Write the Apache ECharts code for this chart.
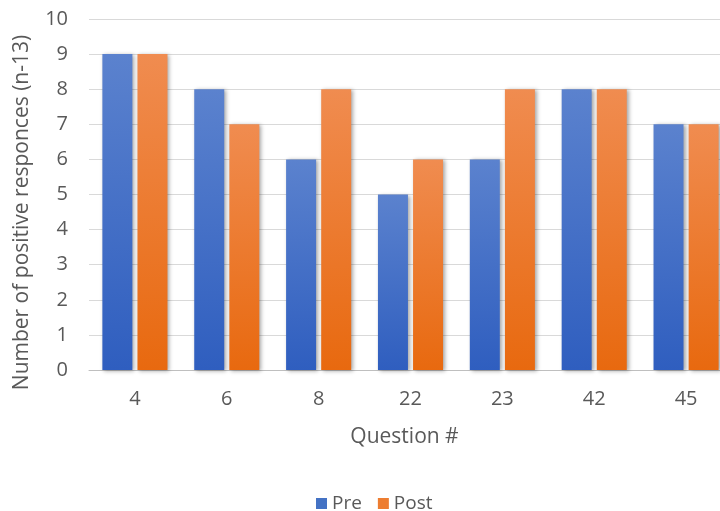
<!DOCTYPE html>
<html><head><meta charset="utf-8">
<script src="https://cdn.jsdelivr.net/npm/echarts@6/dist/echarts.min.js"></script>
<style>html,body{margin:0;padding:0;background:#fff}#c{width:720px;height:511px}</style>
</head><body><div id="c"></div>
<script>
const categories = ['4','6','8','22','23','42','45'];
const preValues = [9, 8, 6, 5, 6, 8, 7];
const postValues = [9, 7, 8, 6, 8, 8, 7];
const yTicks = [0,1,2,3,4,5,6,7,8,9,10];

function grad(top, bottom){
  return new echarts.graphic.LinearGradient(0,0,0,1,[{offset:0,color:top},{offset:1,color:bottom}]);
}
const chart = echarts.init(document.getElementById('c'));
chart.setOption({
  animation:false,
  textStyle:{fontFamily:'Open Sans, Noto Sans, sans-serif'},
  grid:{left:89,width:643,top:19,height:351,outerBoundsMode:'none',containLabel:false},
  legend:{
    top:489, left:311, itemWidth:11, itemHeight:11, itemGap:16,
    icon:'rect',
    textStyle:{fontSize:19,color:'#595959'},
    data:[{name:'Pre',itemStyle:{color:'#4472C4'}},{name:'Post',itemStyle:{color:'#ED7D31'}}]
  },
  xAxis:{
    type:'category', data:categories,
    name:'Question #', nameLocation:'middle', nameGap:57,
    nameTextStyle:{fontSize:21,color:'#595959',padding:[0,12,0,0]},
    axisLine:{lineStyle:{color:'#bfbfbf'}},
    axisTick:{show:false},
    axisLabel:{fontSize:20,color:'#595959',margin:19}
  },
  yAxis:{
    type:'value', min:0, max:10, interval:1,
    name:'Number of positive responces (n-13)', nameLocation:'middle', nameGap:56,
    nameTextStyle:{fontSize:21,color:'#595959',padding:[0,36,0,0]},
    axisLabel:{fontSize:20,color:'#595959',margin:21, formatter:v=>yTicks.includes(v)?String(v):''},
    splitLine:{lineStyle:{color:'#d9d9d9'}},
    axisLine:{show:false}, axisTick:{show:false}
  },
  series:[
    {name:'Pre',type:'bar',data:preValues,barWidth:30,barGap:'17%',
     itemStyle:{color:grad('#5B82CE','#2F5EBF'),shadowColor:'rgba(0,0,0,0.35)',shadowBlur:4,shadowOffsetX:2,shadowOffsetY:1}},
    {name:'Post',type:'bar',data:postValues,barWidth:30,
     itemStyle:{color:grad('#F08C50','#E8690F'),shadowColor:'rgba(0,0,0,0.35)',shadowBlur:4,shadowOffsetX:2,shadowOffsetY:1}}
  ]
});
</script></body></html>
